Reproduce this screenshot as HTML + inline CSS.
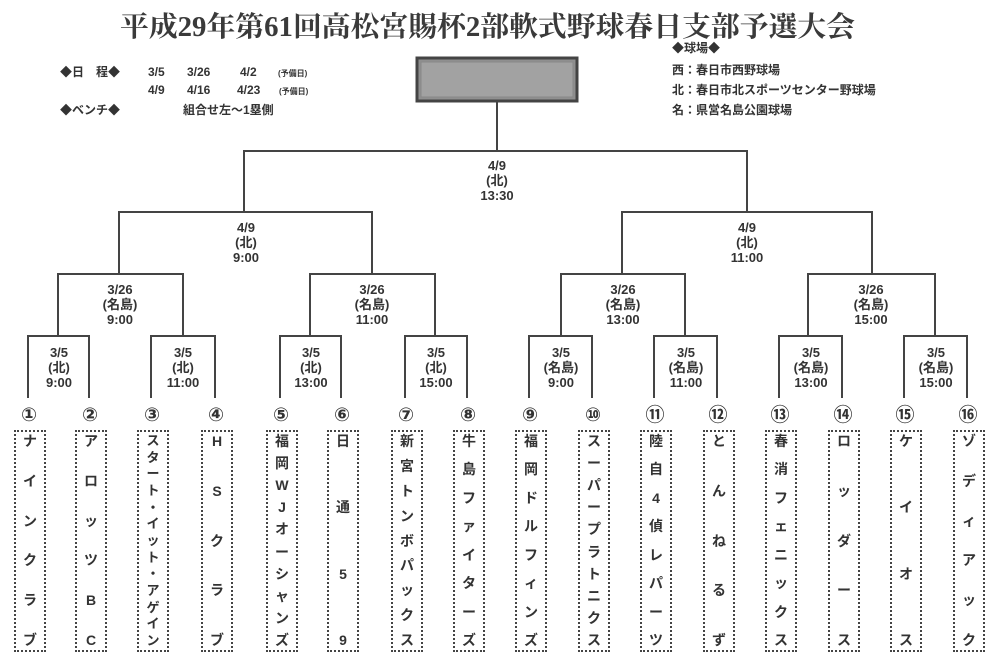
<!DOCTYPE html>
<html><head><meta charset="utf-8"><style>
body{margin:0;background:#fff;width:995px;height:662px;position:relative;overflow:hidden;font-family:"Liberation Serif","Noto Serif CJK SC","Noto Sans CJK JP",serif;color:#333}
svg{position:absolute;left:0;top:0}
.tb{position:absolute;top:430px;width:28px;height:214px;border:2px dotted #444;display:flex;flex-direction:column;justify-content:space-between;align-items:center;font-weight:bold;font-size:14px;line-height:15px;padding:2px 0;box-sizing:content-box;font-family:"Liberation Sans","Noto Sans CJK JP",sans-serif;color:#333}
.tb span{display:block;text-align:center}
</style></head><body>
<svg width="995" height="662" viewBox="0 0 995 662" font-family="Liberation Serif, Noto Serif CJK JP, serif" font-weight="bold" fill="#333">
<text x="120" y="36" font-size="28" textLength="735" lengthAdjust="spacingAndGlyphs" fill="#3a3a3a">平成29年第61回高松宮賜杯2部軟式野球春日支部予選大会</text>
<g font-size="12" font-family="Liberation Sans, Noto Sans CJK JP, sans-serif">
<text x="60" y="76">◆日　程◆</text>
<text x="148" y="76">3/5</text><text x="187" y="76">3/26</text><text x="240" y="76">4/2</text><text x="278" y="76" font-size="8">(予備日)</text>
<text x="148" y="94">4/9</text><text x="187" y="94">4/16</text><text x="237" y="94">4/23</text><text x="279" y="94" font-size="8">(予備日)</text>
<text x="60" y="114">◆ベンチ◆</text><text x="183" y="114">組合せ左～1塁側</text>
<text x="672" y="52">◆球場◆</text>
<text x="672" y="74">西：春日市西野球場</text>
<text x="672" y="94">北：春日市北スポーツセンター野球場</text>
<text x="672" y="114">名：県営名島公園球場</text>
</g>
<rect x="417" y="58" width="160" height="43" fill="#8f8f8f" stroke="#444" stroke-width="3"/>
<rect x="421" y="62" width="152" height="35" fill="#a2a2a2" stroke="#888" stroke-width="1"/>
<g stroke="#444" stroke-width="2" fill="none">
<path d="M497 101V151M244 212V151H747V212"/>
<path d="M119 274V212H372V274M622 274V212H872V274"/>
<path d="M58 336V274H183V336M310 336V274H435V336M561 336V274H685V336M808 336V274H935V336"/>
<path d="M28 398V336H89V398M151 398V336H215V398M280 398V336H341V398M405 398V336H467V398"/>
<path d="M529 398V336H592V398M654 398V336H717V398M779 398V336H842V398M904 398V336H967V398"/>
</g>
<g font-size="13" text-anchor="middle" font-family="Liberation Sans, Noto Sans CJK JP, sans-serif">
<text x="497" y="170">4/9</text><text x="497" y="185">(北)</text><text x="497" y="200">13:30</text>
<text x="246" y="232">4/9</text><text x="246" y="247">(北)</text><text x="246" y="262">9:00</text>
<text x="747" y="232">4/9</text><text x="747" y="247">(北)</text><text x="747" y="262">11:00</text>
<text x="120" y="294">3/26</text><text x="120" y="309">(名島)</text><text x="120" y="324">9:00</text>
<text x="372" y="294">3/26</text><text x="372" y="309">(名島)</text><text x="372" y="324">11:00</text>
<text x="623" y="294">3/26</text><text x="623" y="309">(名島)</text><text x="623" y="324">13:00</text>
<text x="871" y="294">3/26</text><text x="871" y="309">(名島)</text><text x="871" y="324">15:00</text>
<text x="59" y="357">3/5</text><text x="59" y="372">(北)</text><text x="59" y="387">9:00</text>
<text x="183" y="357">3/5</text><text x="183" y="372">(北)</text><text x="183" y="387">11:00</text>
<text x="311" y="357">3/5</text><text x="311" y="372">(北)</text><text x="311" y="387">13:00</text>
<text x="436" y="357">3/5</text><text x="436" y="372">(北)</text><text x="436" y="387">15:00</text>
<text x="561" y="357">3/5</text><text x="561" y="372">(名島)</text><text x="561" y="387">9:00</text>
<text x="686" y="357">3/5</text><text x="686" y="372">(名島)</text><text x="686" y="387">11:00</text>
<text x="811" y="357">3/5</text><text x="811" y="372">(名島)</text><text x="811" y="387">13:00</text>
<text x="936" y="357">3/5</text><text x="936" y="372">(名島)</text><text x="936" y="387">15:00</text>
</g>
<g font-size="19" text-anchor="middle" font-family="DejaVu Sans, Noto Sans CJK JP, sans-serif" font-weight="bold">
<text x="29" y="421">①</text><text x="90" y="421">②</text><text x="152" y="421">③</text><text x="216" y="421">④</text>
<text x="281" y="421">⑤</text><text x="342" y="421">⑥</text><text x="406" y="421">⑦</text><text x="468" y="421">⑧</text>
<text x="530" y="421">⑨</text><text x="593" y="421">⑩</text><text x="655" y="421">⑪</text><text x="718" y="421">⑫</text>
<text x="780" y="421">⑬</text><text x="843" y="421">⑭</text><text x="905" y="421">⑮</text><text x="968" y="421">⑯</text>
</g>
</svg>
<div class="tb" style="left:14px"><span>ナ</span><span>イ</span><span>ン</span><span>ク</span><span>ラ</span><span>ブ</span></div>
<div class="tb" style="left:75px"><span>ア</span><span>ロ</span><span>ッ</span><span>ツ</span><span>B</span><span>C</span></div>
<div class="tb" style="left:137px;font-size:13px;line-height:14px"><span>ス</span><span>タ</span><span>ー</span><span>ト</span><span>・</span><span>イ</span><span>ッ</span><span>ト</span><span>・</span><span>ア</span><span>ゲ</span><span>イ</span><span>ン</span></div>
<div class="tb" style="left:201px"><span>H</span><span>S</span><span>ク</span><span>ラ</span><span>ブ</span></div>
<div class="tb" style="left:266px"><span>福</span><span>岡</span><span>W</span><span>J</span><span>オ</span><span>ー</span><span>シ</span><span>ャ</span><span>ン</span><span>ズ</span></div>
<div class="tb" style="left:327px"><span>日</span><span>通</span><span>5</span><span>9</span></div>
<div class="tb" style="left:391px"><span>新</span><span>宮</span><span>ト</span><span>ン</span><span>ボ</span><span>パ</span><span>ッ</span><span>ク</span><span>ス</span></div>
<div class="tb" style="left:453px"><span>牛</span><span>島</span><span>フ</span><span>ァ</span><span>イ</span><span>タ</span><span>ー</span><span>ズ</span></div>
<div class="tb" style="left:515px"><span>福</span><span>岡</span><span>ド</span><span>ル</span><span>フ</span><span>ィ</span><span>ン</span><span>ズ</span></div>
<div class="tb" style="left:578px"><span>ス</span><span>ー</span><span>パ</span><span>ー</span><span>プ</span><span>ラ</span><span>ト</span><span>ニ</span><span>ク</span><span>ス</span></div>
<div class="tb" style="left:640px"><span>陸</span><span>自</span><span>4</span><span>偵</span><span>レ</span><span>パ</span><span>ー</span><span>ツ</span></div>
<div class="tb" style="left:703px"><span>と</span><span>ん</span><span>ね</span><span>る</span><span>ず</span></div>
<div class="tb" style="left:765px"><span>春</span><span>消</span><span>フ</span><span>ェ</span><span>ニ</span><span>ッ</span><span>ク</span><span>ス</span></div>
<div class="tb" style="left:828px"><span>ロ</span><span>ッ</span><span>ダ</span><span>ー</span><span>ス</span></div>
<div class="tb" style="left:890px"><span>ケ</span><span>イ</span><span>オ</span><span>ス</span></div>
<div class="tb" style="left:953px"><span>ゾ</span><span>デ</span><span>ィ</span><span>ア</span><span>ッ</span><span>ク</span></div>
</body></html>
